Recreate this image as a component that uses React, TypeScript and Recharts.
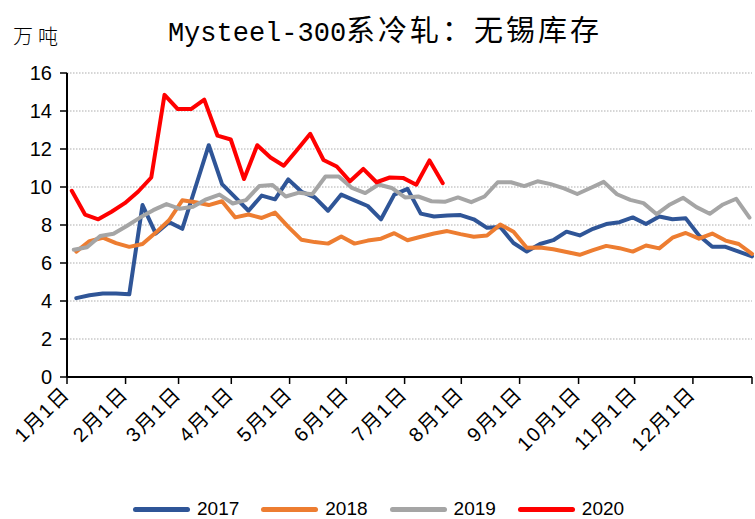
import { LineChart, Line, XAxis, YAxis, CartesianGrid } from "recharts";

// weekly inventory, 10k tonnes
const s2017 = [
  4.15, 4.3, 4.4, 4.4, 4.35, 9.05, 7.55, 8.15, 7.8, 10.0, 12.2, 10.15, 9.45, 8.75,
  9.55, 9.35, 10.4, 9.75, 9.45, 8.75, 9.6, 9.3, 9.0, 8.3, 9.6, 9.9, 8.6, 8.45, 8.5,
  8.52, 8.3, 7.85, 7.9, 7.05, 6.6, 7.0, 7.2, 7.65, 7.45, 7.8, 8.05, 8.15, 8.4, 8.05,
  8.45, 8.3, 8.35, 7.45, 6.85, 6.85, 6.6, 6.35,
];
const s2018 = [
  6.6, 7.15, 7.33, 7.05, 6.85, 7.0, 7.6, 8.25, 9.3, 9.2, 9.05, 9.25, 8.4, 8.55,
  8.37, 8.65, 7.9, 7.22, 7.1, 7.02, 7.4, 7.02, 7.18, 7.28, 7.57, 7.2, 7.38, 7.55,
  7.68, 7.52, 7.38, 7.45, 8.02, 7.65, 6.8, 6.82, 6.72, 6.58, 6.43, 6.68, 6.9, 6.78,
  6.6, 6.92, 6.77, 7.33, 7.58, 7.28, 7.55, 7.18, 7.0, 6.48,
];
const s2019 = [
  6.7, 6.83, 7.42, 7.54, 7.95, 8.39, 8.78, 9.1, 8.85, 8.96, 9.35, 9.6, 9.13, 9.31,
  10.05, 10.1, 9.5, 9.7, 9.62, 10.55, 10.55, 9.95, 9.68, 10.13, 9.95, 9.45, 9.5,
  9.25, 9.22, 9.45, 9.2, 9.5, 10.25, 10.25, 10.05, 10.3, 10.15, 9.93, 9.63, 9.95,
  10.27, 9.62, 9.32, 9.15, 8.57, 9.08, 9.43, 8.94, 8.59, 9.08, 9.38, 8.39,
];
const s2020 = [
  9.8, 8.55, 8.3, 8.7, 9.15, 9.75, 10.5, 14.85, 14.1, 14.1, 14.6, 12.7, 12.5, 10.42,
  12.2, 11.55, 11.12, 11.95, 12.8, 11.42, 11.08, 10.3, 10.95, 10.25, 10.5, 10.48,
  10.12, 11.4, 10.2,
];

const monthLabels = [
  "1月1日", "2月1日", "3月1日", "4月1日", "5月1日", "6月1日",
  "7月1日", "8月1日", "9月1日", "10月1日", "11月1日", "12月1日", "",
];
// month starts, in weeks from the first 2017 reading
const monthTicks = [-0.7, 3.72, 7.72, 11.7, 16.1, 20.38, 24.78, 29.06, 33.46, 37.91, 42.14, 46.54, 51];
const yTicks = [0, 2, 4, 6, 8, 10, 12, 14, 16];

const series = [
  { name: "2017", values: s2017, color: "#2F5597", shift: 0 },
  { name: "2018", values: s2018, color: "#ED7D31", shift: 0 },
  { name: "2019", values: s2019, color: "#A5A5A5", shift: -0.19 },
  { name: "2020", values: s2020, color: "#FF0000", shift: -0.34 },
];

const latin = "'Liberation Sans', Arial, sans-serif";
const cjk = "'Noto Sans CJK SC', sans-serif";

function MonthTick(props: any) {
  const { x, y, payload } = props;
  const label = monthLabels[monthTicks.indexOf(payload.value)] ?? "";
  if (!label) return null;
  const ax = x + 4;
  const ay = y + 9;
  return (
    <text
      x={ax}
      y={ay}
      transform={`rotate(-45 ${ax} ${ay})`}
      textAnchor="end"
      fontSize={20}
      letterSpacing={1.5}
      fill="#000"
      fontFamily={`'Liberation Sans', ${cjk}`}
    >
      {label}
    </text>
  );
}

export default function App() {
  return (
    <div style={{ position: "absolute", left: 0, top: 0, width: 755, height: 519, background: "#fff" }}>
      <div
        style={{
          position: "absolute", left: 0, top: 12, width: 770, textAlign: "center",
          color: "#000", whiteSpace: "nowrap", lineHeight: "32px",
        }}
      >
        <span style={{ fontFamily: "'Liberation Mono', monospace", fontSize: 27 }}>Mysteel-300</span>
        <span style={{ fontFamily: cjk, fontSize: 29, letterSpacing: 3 }}>系冷轧：无锡库存</span>
      </div>
      <div
        style={{
          position: "absolute", left: 13, top: 24, fontFamily: cjk, fontSize: 20,
          letterSpacing: 5, fontWeight: 300, color: "#000", lineHeight: "24px",
        }}
      >
        万吨
      </div>

      <LineChart width={755} height={519} margin={{ top: 73, right: 3, left: 0, bottom: 52 }}>
        <CartesianGrid
          horizontal
          vertical={false}
          stroke="#d6d6d6"
          strokeWidth={2}
          strokeDasharray="1.5 1.5"
        />
        <XAxis
          type="number"
          dataKey="w"
          domain={[-0.7, 51]}
          ticks={monthTicks}
          interval={0}
          tick={<MonthTick />}
          tickSize={7}
          height={90}
          axisLine={{ stroke: "#000", strokeWidth: 2 }}
          tickLine={{ stroke: "#000", strokeWidth: 1.5 }}
          allowDuplicatedCategory={false}
        />
        <YAxis
          type="number"
          domain={[0, 16]}
          ticks={yTicks}
          interval={0}
          width={67}
          tickSize={7}
          tickMargin={8}
          axisLine={{ stroke: "#000", strokeWidth: 2 }}
          tickLine={{ stroke: "#000", strokeWidth: 1.5 }}
          tick={{ fill: "#000", fontSize: 20, fontFamily: latin }}
        />
        {series.map((s) => (
          <Line
            key={s.name}
            data={s.values.map((v, i) => ({ w: i + s.shift, v }))}
            dataKey="v"
            name={s.name}
            type="linear"
            stroke={s.color}
            strokeWidth={4}
            strokeLinejoin="round"
            strokeLinecap="round"
            dot={false}
            activeDot={false}
            isAnimationActive={false}
          />
        ))}
      </LineChart>

      <div
        style={{
          position: "absolute", left: 133, top: 497, display: "flex", alignItems: "center",
          fontFamily: latin, fontSize: 19, color: "#000",
        }}
      >
        {series.map((s) => (
          <div key={s.name} style={{ display: "flex", alignItems: "center", marginRight: 22 }}>
            <span
              style={{
                display: "inline-block", width: 57, height: 5, borderRadius: 3,
                background: s.color, marginRight: 7,
              }}
            />
            <span style={{ lineHeight: "24px" }}>{s.name}</span>
          </div>
        ))}
      </div>
    </div>
  );
}
